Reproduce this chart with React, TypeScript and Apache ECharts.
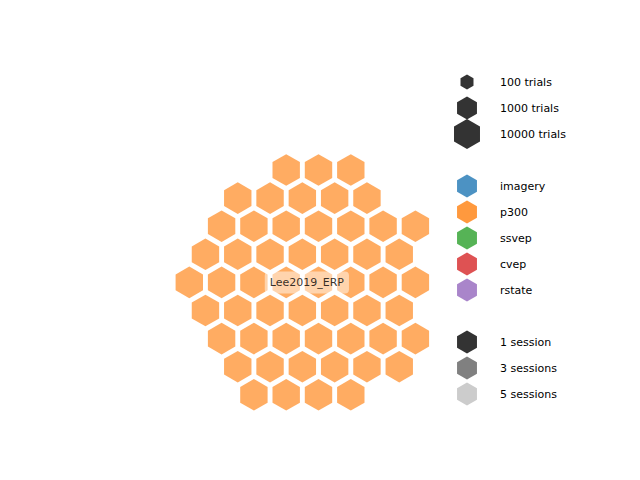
import React, { useEffect, useRef } from "react";
import * as echarts from "echarts";

// Hex layout of the 54 subjects: per row, first column offset and count
const rowStarts = [3, 1.5, 1, 0.5, 0, 0.5, 1, 1.5, 2];
const rowCounts = [3, 5, 7, 7, 8, 7, 7, 6, 4];
const datasetName = "Lee2019_ERP";
const datasetLabelPos = [3.64, 4];

const sizeLabels = ["100 trials", "1000 trials", "10000 trials"];
const paradigms = ["imagery", "p300", "ssvep", "cvep", "rstate"];
const paradigmColors = [
  "rgba(31,119,180,0.8)",
  "rgba(255,127,14,0.8)",
  "rgba(44,160,44,0.8)",
  "rgba(214,39,40,0.8)",
  "rgba(148,103,189,0.8)",
];
const sessionLabels = ["1 session", "3 sessions", "5 sessions"];
const sessionColors = ["#333333", "#808080", "#cccccc"];

const FONT = "DejaVu Sans";

function hexPoints(cx: number, cy: number, r: number): number[][] {
  const pts: number[][] = [];
  for (let i = 0; i < 6; i++) {
    const a = ((-90 + 60 * i) * Math.PI) / 180;
    pts.push([cx + r * Math.cos(a), cy + r * Math.sin(a)]);
  }
  return pts;
}

export default function App() {
  const ref = useRef<HTMLDivElement>(null);
  useEffect(() => {
    if (!ref.current) return;
    const chart = echarts.init(ref.current, undefined, { renderer: "svg" });

    const hexData: number[][] = [];
    rowCounts.forEach((n, r) => {
      for (let i = 0; i < n; i++) hexData.push([rowStarts[r] + i, r]);
    });

    const sx = 32.3;
    const sy = 28.1;
    const x0 = 189.3;
    const y0 = 170;

    const legendX = 467;
    const textX = 500;
    const graphics: any[] = [];
    const addItem = (y: number, r: number, fill: string, label: string) => {
      graphics.push({
        type: "polygon",
        shape: { points: hexPoints(legendX, y, r) },
        style: { fill },
      });
      graphics.push({
        type: "text",
        x: textX,
        y,
        style: {
          text: label,
          fill: "#000",
          font: `11px "${FONT}"`,
          textVerticalAlign: "middle",
          verticalAlign: "middle",
        },
      });
    };
    const sizeR = [7.5, 11.5, 15];
    const sizeY = [82, 108, 134];
    sizeLabels.forEach((l, i) => addItem(sizeY[i], sizeR[i], "#333333", l));
    paradigms.forEach((l, i) => addItem(186 + 26 * i, 11.5, paradigmColors[i], l));
    sessionLabels.forEach((l, i) => addItem(342 + 26 * i, 11.5, sessionColors[i], l));

    chart.setOption({
      animation: false,
      grid: { left: 0, top: 0, right: 0, bottom: 0 },
      xAxis: {
        type: "value",
        min: -x0 / sx,
        max: (640 - x0) / sx,
        show: false,
      },
      yAxis: {
        type: "value",
        inverse: true,
        min: -y0 / sy,
        max: (480 - y0) / sy,
        show: false,
      },
      series: [
        {
          type: "scatter",
          data: hexData,
          symbol: "path://M0,-1L0.866,-0.5L0.866,0.5L0,1L-0.866,0.5L-0.866,-0.5Z",
          symbolSize: [27.4, 31.6],
          itemStyle: { color: "rgba(255,127,14,0.65)", opacity: 1 },
          silent: true,
        },
        {
          type: "scatter",
          data: [datasetLabelPos],
          symbolSize: 0,
          silent: true,
          label: {
            show: true,
            position: "inside",
            formatter: datasetName,
            fontFamily: FONT,
            fontSize: 11,
            color: "#000",
            backgroundColor: "rgba(255,255,255,0.6)",
            borderRadius: 4,
            padding: [6, 5, 5, 5],
          },
        },
      ],
      graphic: graphics,
    });
    return () => chart.dispose();
  }, []);
  return (
    <div
      ref={ref}
      style={{ position: "fixed", left: 0, top: 0, width: 640, height: 480, background: "#fff" }}
    />
  );
}
